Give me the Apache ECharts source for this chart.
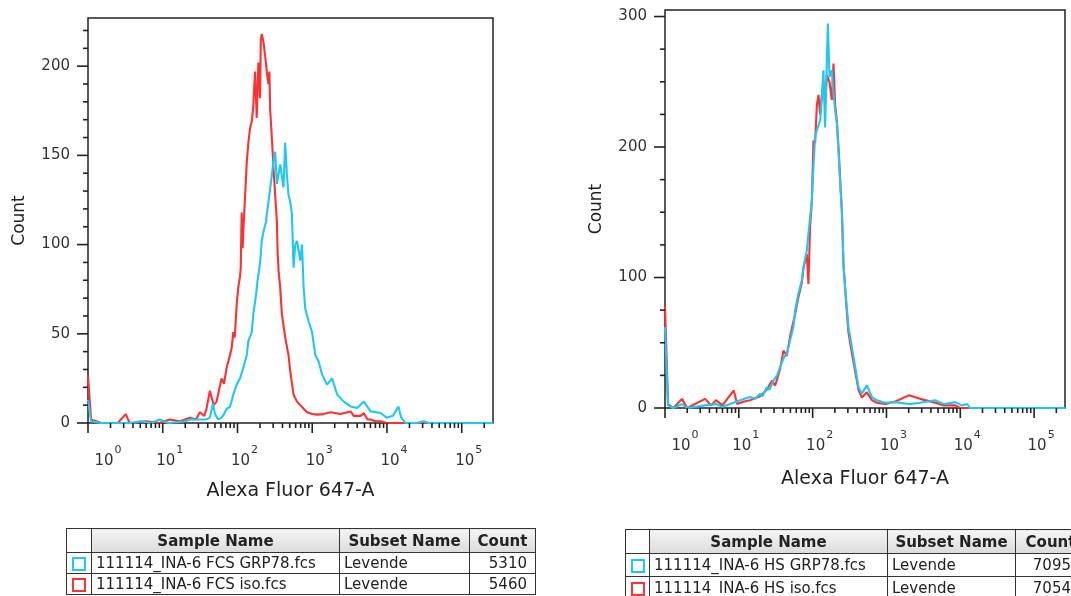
<!DOCTYPE html>
<html>
<head>
<meta charset="utf-8">
<script src="https://cdn.jsdelivr.net/npm/echarts@6/dist/echarts.min.js"></script>
<style>
  html, body { margin: 0; padding: 0; background: #fff; overflow: hidden; }
  #chart { position: absolute; left: 0; top: 0; width: 1071px; height: 596px; }
  table.leg { position: absolute; border-collapse: collapse; table-layout: fixed;
    font-family: "DejaVu Sans", sans-serif; font-size: 15px; color: #222; }
  table.leg td, table.leg th { border: 1.5px solid #333; padding: 0 4px; white-space: nowrap; overflow: hidden; }
  table.leg th { font-weight: bold; background: linear-gradient(#f4f4f4, #dcdcdc); text-align: center; }
  table.leg th.blank { background: #fff; }
  table.leg td.num { text-align: right; padding-right: 8px; }
  table.leg td.box { text-align: center; padding: 0; }
  .sq { display: inline-block; width: 10px; height: 10px; border: 2px solid; vertical-align: middle; }
</style>
</head>
<body>
<div id="chart"></div>
<table class="leg" id="tabL" style="left:66px; top:528px; width:469px;">
  <colgroup><col style="width:25px"><col style="width:248px"><col style="width:130px"><col style="width:66px"></colgroup>
  <tr style="height:24px"><th class="blank"></th><th>Sample Name</th><th>Subset Name</th><th>Count</th></tr>
  <tr style="height:21px"><td class="box"><span class="sq" style="border-color:#1ec8f5"></span></td><td>111114_INA-6 FCS GRP78.fcs</td><td>Levende</td><td class="num">5310</td></tr>
  <tr style="height:21px"><td class="box"><span class="sq" style="border-color:#ff3333"></span></td><td>111114_INA-6 FCS iso.fcs</td><td>Levende</td><td class="num">5460</td></tr>
</table>
<table class="leg" id="tabR" style="left:625px; top:529px; width:460px;">
  <colgroup><col style="width:24px"><col style="width:238px"><col style="width:128px"><col style="width:70px"></colgroup>
  <tr style="height:24px"><th class="blank"></th><th>Sample Name</th><th>Subset Name</th><th>Count</th></tr>
  <tr style="height:23px"><td class="box"><span class="sq" style="border-color:#1ec8f5"></span></td><td>111114_INA-6 HS GRP78.fcs</td><td>Levende</td><td class="num" style="padding-right:14px">7095</td></tr>
  <tr style="height:23px"><td class="box"><span class="sq" style="border-color:#ff3333"></span></td><td>111114_INA-6 HS iso.fcs</td><td>Levende</td><td class="num" style="padding-right:14px">7054</td></tr>
</table>
<script>
// ---------------- data ----------------
const xAxisTitle = 'Alexa Fluor 647-A';
const yAxisTitle = 'Count';
const xMajorTicks = [1, 10, 100, 1000, 10000, 100000];
const xMinorMultipliers = [2, 3, 4, 5, 6, 7, 8, 9];
const xMax = 262144;
const yLeftMax = 227;
const yLeftMajor = [0, 50, 100, 150, 200];
const yLeftMinor = [10, 20, 30, 40, 60, 70, 80, 90, 110, 120, 130, 140, 160, 170, 180, 190, 210, 220];
const yRightMax = 305;
const yRightMajor = [0, 100, 200, 300];
const yRightMinor = [25, 50, 75, 125, 150, 175, 225, 250, 275];

const sampleNamesLeft = ['111114_INA-6 FCS GRP78.fcs', '111114_INA-6 FCS iso.fcs'];
const sampleNamesRight = ['111114_INA-6 HS GRP78.fcs', '111114_INA-6 HS iso.fcs'];

// Left panel (FCS): [intensity, count]
const leftIso = [[1,26],[1.1,2],[1.5,0],[2.5,0],[3.2,5],[3.6,0],[6,1],[9,0],[12.4,2],[17,1],[23,3],[28,2],[31.3,6],[36,4],[38.5,8],[42.7,18],[45,17],[48,10],[52.5,12],[57,19],[61.3,25],[66,22],[71.6,31],[79.3,38],[83.6,42],[87.9,51],[92,48],[97.5,66],[102.5,76],[108,82],[110.5,87],[113.8,118],[117.4,98],[119.6,107],[126,107],[133,146],[139.8,157],[147,165],[155.3,169],[163,178],[171.8,197],[181,171],[190.4,202],[200.6,182],[205,215],[211.4,218],[222,214],[234,206],[246.8,197],[259.2,190],[267.4,197],[273.3,176],[288.2,160],[303,143],[319,128],[336.5,113],[345,95],[355,85],[372.6,76],[392.8,61],[434.9,48],[481.5,38],[507.8,29],[562.6,16],[625,12],[692,10],[851,6],[1000,5],[1161,4.7],[1410,5],[1751,6],[2387,5],[3252,6.5],[3600,4],[4432,4],[4910,5.5],[5500,2],[6040,2],[7000,1],[8230,1],[10000,0],[262144,0]];
const leftGrp78 = [[1,13],[1.1,1],[1.5,0],[4,0],[5,1],[7,0],[9.1,2],[12,0],[20,1],[23,2],[31.3,2],[38.5,2],[42.7,3],[47,11],[50,5],[55,2],[61.3,3],[66,5],[71.6,8],[79.3,9],[88,16],[97.5,21.5],[108,25],[119.6,31],[133,38],[139.8,46],[155.3,51],[163,61],[177.3,72],[184.6,79],[200.6,90],[211.4,102],[222,107],[241.6,113],[246.8,117],[260,124],[288.2,139],[303,147],[319,152],[336.5,134],[372.6,145],[412.7,132],[434.9,157],[458.2,139],[481.5,128],[507.8,124],[535,117],[562.6,87],[593,100],[625,102],[692,91],[729.6,100],[766.5,76],[807,64],[895,57],[993,51],[1101,38],[1161,37],[1220,34.5],[1355,27],[1581,21.5],[1845,25],[2155,16],[2644,12],[3252,9.3],[4001,8.4],[4910,12],[6040,6.5],[8230,5.6],[9905,3],[12000,4],[14230,9.3],[15500,3],[17830,0],[25000,0],[31100,1],[36000,0],[262144,0]];

// Right panel (HS): [intensity, count]
const rightIso = [[1,78],[1.1,3],[1.3,0],[1.7,7],[2,0],[3.5,7],[4.2,2],[4.9,6],[6,2],[8.54,13.5],[9.5,3],[11.8,5],[14.2,6],[19.4,9],[23.9,14],[28.2,21],[31,17],[36.3,30],[40.2,44],[44.7,40],[49.5,55],[57.9,72],[64.2,85],[71.4,96],[75,107],[83.4,118],[87.7,95],[92.5,140],[97.5,158],[102.5,205],[108.1,203],[114,232],[119.9,240],[126.4,225],[133.3,240],[140,250],[147.6,232],[155.8,255],[169,250],[182,236],[191.6,264],[202,232],[213,220],[224,200],[236,175],[249,150],[262,110],[284.7,80],[305.8,58],[340,42],[377,28],[418,14],[464.6,8],[543,12],[635,6],[742,4],[961,3],[1314,5],[2015,9.7],[2870,7],[4584,4],[6000,2],[8554,2],[10000,0],[262144,0]];
const rightGrp78 = [[1,62],[1.1,2],[1.3,0],[1.7,3],[2,0],[3.5,2],[4.9,3],[6,1],[8.5,4],[10.4,5.9],[11.8,7],[14.2,8.4],[16.6,7],[19.4,11],[21,9],[23.9,16],[26,14],[29.4,21],[33,25],[36.3,31.4],[40.2,38],[44.7,41.7],[49.5,51.9],[54.9,62],[57.9,75],[64.2,87.7],[71.4,97.9],[75,108],[83.4,120.8],[87.7,133.6],[92.5,146.4],[97.5,159],[102.5,184.7],[108.1,207.7],[114,212.8],[126.4,220.5],[133.3,238],[140,258.8],[147.6,215],[155.8,266.4],[160.7,294.6],[169,253.6],[182,258.8],[191.6,241],[202,228],[213,218],[224,197.5],[236,172],[249,151.5],[262,108],[284.7,82.5],[305.8,62],[340,46.7],[377,31.4],[418,16],[464.6,11],[543,17.4],[635,8.4],[742,5.9],[961,4],[1314,4.5],[2015,3],[2870,4],[4584,6],[6000,3],[8554,4.5],[10500,2],[12440,3],[13500,0],[262144,0]];

// ---------------- styles ----------------
const RED = '#ff3030';
const BLUE = '#1ec8f5';
const AX = '#222';
const FONT = 'DejaVu Sans';

// tick lists
const xMinorTicks = [];
xMajorTicks.forEach(d => xMinorMultipliers.forEach(m => { if (d * m < xMax) xMinorTicks.push(d * m); }));

function xTickData() {
  return xMajorTicks.map(v => [v, 10]).concat(xMinorTicks.map(v => [v, 5]));
}
function yTickData(major, minor) {
  return major.map(v => [v, 11]).concat(minor.map(v => [v, 5]));
}

function xLabelFormatter(v) {
  const e = Math.round(Math.log10(v));
  if (Math.abs(Math.pow(10, e) - v) / v > 1e-6 || e > 5) return '';
  return (e === 0 ? '{b0|10}' : '{b|10}') + '{s|' + e + '}';
}
const richX = {
  b: { fontFamily: FONT, fontSize: 15, color: '#333', lineHeight: 24, verticalAlign: 'bottom', padding: [0, 0, 0, 14] },
  b0: { fontFamily: FONT, fontSize: 15, color: '#333', lineHeight: 24, verticalAlign: 'bottom', padding: [0, 0, 0, 40] },
  s: { fontFamily: FONT, fontSize: 11, color: '#333', lineHeight: 24, verticalAlign: 'top', padding: [0, 0, 0, 1] }
};

function makeX(gridIndex, nameGap) {
  return {
    type: 'log', logBase: 10, gridIndex, min: 1, max: xMax,
    axisLine: { show: false }, axisTick: { show: false }, splitLine: { show: false },
    axisLabel: { formatter: xLabelFormatter, rich: richX, margin: 22, showMaxLabel: true },
    name: xAxisTitle, nameLocation: 'middle', nameGap,
    nameTextStyle: { fontFamily: FONT, fontSize: 19, color: '#222' }
  };
}
function makeY(gridIndex, max, step) {
  return {
    type: 'value', gridIndex, min: 0, max, interval: step,
    axisLine: { show: false }, axisTick: { show: false }, splitLine: { show: false },
    axisLabel: { margin: 18, fontFamily: FONT, fontSize: 15, color: '#333',
      formatter: v => (v % step === 0 ? String(v) : '') },
    name: yAxisTitle, nameLocation: 'middle', nameGap: 60, nameRotate: 90,
    nameTextStyle: { fontFamily: FONT, fontSize: 17, color: '#222' }
  };
}

function tickSeries(gridIdx, data, dir) {
  return {
    type: 'custom', xAxisIndex: gridIdx, yAxisIndex: gridIdx, silent: true, clip: false, z: 5,
    data,
    renderItem: function (params, api) {
      const v = api.value(0), len = api.value(1);
      if (dir === 'x') {
        const p = api.coord([v, 0]);
        return { type: 'line', shape: { x1: p[0], y1: p[1], x2: p[0], y2: p[1] + len }, style: { stroke: AX, lineWidth: 1.6 } };
      } else {
        const p = api.coord([1, v]);
        return { type: 'line', shape: { x1: p[0] - len, y1: p[1], x2: p[0], y2: p[1] }, style: { stroke: AX, lineWidth: 1.6 } };
      }
    }
  };
}

function lineSeries(name, gridIdx, data, color) {
  return {
    name, type: 'line', xAxisIndex: gridIdx, yAxisIndex: gridIdx, data,
    showSymbol: false, symbol: 'none', smooth: false, animation: false,
    lineStyle: { color, width: 2.1 }, itemStyle: { color }, z: 3
  };
}

const chart = echarts.init(document.getElementById('chart'), null, { renderer: 'canvas' });
chart.setOption({
  animation: false,
  backgroundColor: '#fff',
  grid: [
    { left: 88, top: 18, width: 405, height: 405, show: true, borderColor: AX, borderWidth: 1.5, backgroundColor: 'transparent' },
    { left: 665, top: 10, width: 400, height: 398, show: true, borderColor: AX, borderWidth: 1.5, backgroundColor: 'transparent' }
  ],
  xAxis: [makeX(0, 59), makeX(1, 62)],
  yAxis: [makeY(0, yLeftMax, 50), makeY(1, yRightMax, 100)],
  series: [
    lineSeries(sampleNamesLeft[1], 0, leftIso, RED),
    lineSeries(sampleNamesLeft[0], 0, leftGrp78, BLUE),
    lineSeries(sampleNamesRight[1], 1, rightIso, RED),
    lineSeries(sampleNamesRight[0], 1, rightGrp78, BLUE),
    tickSeries(0, xTickData(), 'x'),
    tickSeries(0, yTickData(yLeftMajor, yLeftMinor), 'y'),
    tickSeries(1, xTickData(), 'x'),
    tickSeries(1, yTickData(yRightMajor, yRightMinor), 'y')
  ]
});
</script>
</body>
</html>
